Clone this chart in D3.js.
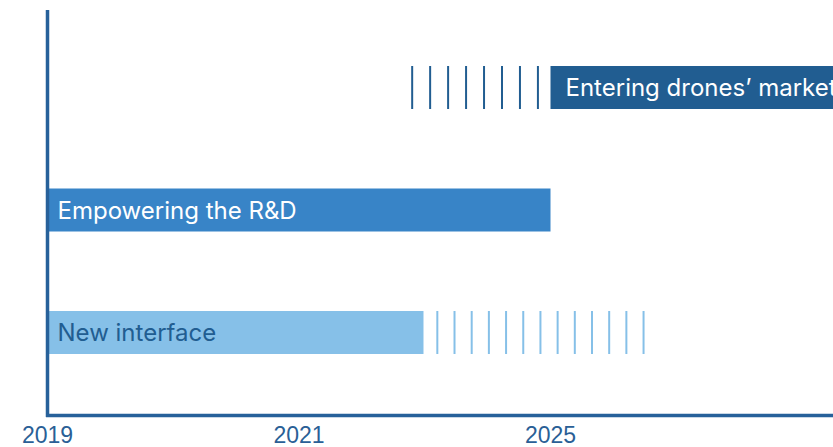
<!DOCTYPE html>
<html>
<head>
<meta charset="utf-8">
<script src="https://cdn.jsdelivr.net/npm/d3@7"></script>
<style>
  body { margin: 0; background: #fff; }
  svg { display: block; }
</style>
</head>
<body>
<svg id="chart" width="833" height="447"></svg>
<script>
// tick labels sit on equally spaced steps, not a linear year scale
const tickLabels = ["2019", "2021", "2025"];
const tasks = ["Entering drones’ market", "Empowering the R&D", "New interface"];
const starts = [2, 0, 0];
const ends = [3.4, 2, 1.495];
const dashStarts = [1.45, null, 1.55];
const dashEnds = [1.95, null, 2.37];
const fills = ["#215d91", "#3884c7", "#86c0e8"];
const textColors = ["#ffffff", "#ffffff", "#215d91"];

const svg = d3.select("#chart");

const x = d3.scaleLinear()
    .domain([0, 3.4])
    .range([47.5, 47.5 + 251.5 * 3.4]);

const y = d3.scaleBand()
    .domain(tasks)
    .range([-13.5, 433.5])
    .padding(0.649);

const rows = tasks.map((t, i) => ({
    name: t, start: starts[i], end: ends[i],
    dashStart: dashStarts[i], dashEnd: dashEnds[i],
    fill: fills[i], text: textColors[i]
}));

const row = svg.append("g")
    .selectAll("g")
    .data(rows)
    .join("g")
    .attr("transform", d => `translate(0,${y(d.name)})`);

row.append("rect")
    .attr("x", d => x(d.start))
    .attr("y", 0)
    .attr("width", d => x(d.end) - x(d.start))
    .attr("height", y.bandwidth())
    .attr("fill", d => d.fill);

// dashed extension: evenly spaced vertical strokes
row.each(function (d) {
    if (d.dashStart == null) return;
    const x0 = x(d.dashStart), x1 = x(d.dashEnd);
    const n = Math.round((x1 - x0) / 17.5);
    const xs = d3.range(n + 1).map(k => x0 + k * (x1 - x0) / n);
    d3.select(this).selectAll("line.dash")
        .data(xs)
        .join("line")
        .attr("class", "dash")
        .attr("x1", v => v).attr("x2", v => v)
        .attr("y1", 0).attr("y2", y.bandwidth())
        .attr("stroke", d.fill)
        .attr("stroke-width", 2);
});

row.append("text")
    .attr("x", d => x(d.start) + (d.start > 0 ? 15 : 10))
    .attr("y", y.bandwidth() / 2)
    .attr("dy", "0.36em")
    .attr("fill", d => d.text)
    .attr("font-family", "Inter, 'Noto Sans', sans-serif")
    .attr("font-size", 24)
    .text(d => d.name);

// axes
const axisColor = "#27619a";
svg.append("line")
    .attr("x1", x(0)).attr("x2", x(0))
    .attr("y1", 10).attr("y2", 417)
    .attr("stroke", axisColor)
    .attr("stroke-width", 3.5);

svg.append("line")
    .attr("x1", x(0) - 1.5).attr("x2", 833)
    .attr("y1", 415.5).attr("y2", 415.5)
    .attr("stroke", axisColor)
    .attr("stroke-width", 3.5);

svg.append("g")
    .selectAll("text")
    .data(tickLabels)
    .join("text")
    .attr("x", (d, i) => x(i))
    .attr("y", 443)
    .attr("text-anchor", "middle")
    .attr("fill", "#2a5f96")
    .attr("font-family", "'Liberation Sans', Arial, sans-serif")
    .attr("font-size", 23)
    .text(d => d);
</script>
</body>
</html>
